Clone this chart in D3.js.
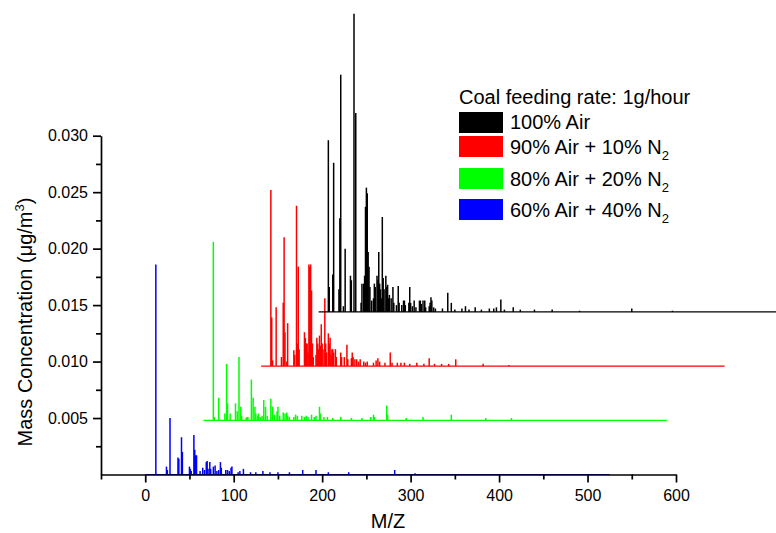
<!DOCTYPE html>
<html>
<head>
<meta charset="utf-8">
<script src="https://cdn.jsdelivr.net/npm/d3@7/dist/d3.min.js"></script>
<style>
  body { margin: 0; background: #fff; }
  svg text { font-family: "Liberation Sans", Arial, sans-serif; fill: #000; }
</style>
</head>
<body>
<div id="chart"></div>
<script>
// waterfall offsets between the spectra
var xShift = 65;
var yShift = 0.0048;
var mzRange = [1, 525];

var xTicks = [0, 100, 200, 300, 400, 500, 600];
var xMinor = [-50, 50, 150, 250, 350, 450, 550];
var yTicks = [0.005, 0.010, 0.015, 0.020, 0.025, 0.030];
var yMinor = [0.0025, 0.0075, 0.0125, 0.0175, 0.0225, 0.0275];

var legendTitle = 'Coal feeding rate: 1g/hour';
var seriesNames = ['60% Air + 40% N', '80% Air + 20% N', '90% Air + 10% N', '100% Air'];
var seriesColors = ['#0000ff', '#00ff00', '#ff0000', '#000000'];

// [m/z, mass concentration] peaks of each spectrum
var blue = [[12, 0.0186], [24, 0.0007], [25, 0.0004], [28, 0.0050], [37, 0.0015], [38, 0.0014],
  [41, 0.0033], [42, 0.0020], [50, 0.0007], [51, 0.0005], [52, 0.0003], [55, 0.0035], [56, 0.0022],
  [57, 0.0017], [58, 0.0017], [62, 0.0003], [65, 0.0006], [67, 0.0004], [69, 0.0011], [70, 0.0012],
  [71, 0.0005], [73, 0.0011], [74, 0.0005], [77, 0.0007], [79, 0.0008], [81, 0.0003], [83, 0.0004],
  [85, 0.0011], [86, 0.0006], [91, 0.0004], [93, 0.0004], [95, 0.0003], [97, 0.0006], [98, 0.0007],
  [105, 0.0002], [107, 0.0003], [111, 0.0005], [119, 0.0002], [125, 0.0002], [133, 0.0003],
  [141, 0.0002], [150, 0.0002], [163, 0.0002], [178, 0.0004], [193, 0.0004], [207, 0.0002],
  [230, 0.0002], [282, 0.0004], [305, 0.0001]];

var green = [[12, 0.0158], [13, 0.0003], [18, 0.0020], [25, 0.0006], [27, 0.0050], [28, 0.0015],
  [31, 0.0006], [37, 0.0015], [39, 0.0008], [41, 0.0056], [43, 0.0012], [44, 0.0004], [49, 0.0002],
  [50, 0.0003], [51, 0.0003], [55, 0.0036], [57, 0.0020], [59, 0.0012], [60, 0.0006], [62, 0.0004],
  [63, 0.0006], [65, 0.0003], [67, 0.0004], [69, 0.0018], [71, 0.0012], [73, 0.0004], [77, 0.0019],
  [79, 0.0012], [81, 0.0005], [84, 0.0008], [85, 0.0012], [87, 0.0004], [91, 0.0007], [93, 0.0006],
  [95, 0.0007], [96, 0.0004], [98, 0.0003], [103, 0.0003], [105, 0.0005], [107, 0.0004],
  [112, 0.0004], [115, 0.0003], [117, 0.0004], [119, 0.0003], [123, 0.0005], [126, 0.0003],
  [128, 0.0004], [132, 0.0012], [133, 0.0006], [137, 0.0003], [141, 0.0003], [147, 0.0002],
  [156, 0.0003], [168, 0.0002], [180, 0.0002], [190, 0.0003], [193, 0.0005], [194, 0.0003],
  [208, 0.0013], [209, 0.0005], [230, 0.0002], [249, 0.0003], [281, 0.0005], [320, 0.0002],
  [349, 0.0002]];

var red = [[12, 0.0156], [13, 0.0043], [14, 0.0005], [18, 0.0052], [24, 0.0008], [26, 0.0056],
  [27, 0.0114], [28, 0.0030], [30, 0.0004], [31, 0.0038], [38, 0.0014], [39, 0.0010], [41, 0.0142],
  [42, 0.0020], [43, 0.0088], [44, 0.0015], [50, 0.0030], [51, 0.0025], [52, 0.0020], [53, 0.0020],
  [54, 0.0012], [55, 0.0090], [56, 0.0088], [57, 0.0090], [58, 0.0067], [59, 0.0020], [60, 0.0008],
  [63, 0.0010], [64, 0.0025], [65, 0.0020], [66, 0.0015], [67, 0.0027], [68, 0.0018], [69, 0.0037],
  [70, 0.0020], [71, 0.0015], [73, 0.0060], [74, 0.0020], [75, 0.0012], [77, 0.0029], [78, 0.0020],
  [79, 0.0025], [80, 0.0010], [81, 0.0015], [82, 0.0015], [83, 0.0012], [85, 0.0015], [86, 0.0008],
  [91, 0.0012], [92, 0.0008], [95, 0.0008], [98, 0.0019], [99, 0.0006], [103, 0.0007],
  [104, 0.0012], [105, 0.0008], [107, 0.0006], [109, 0.0006], [111, 0.0004], [113, 0.0006],
  [117, 0.0004], [119, 0.0003], [121, 0.0004], [128, 0.0003], [131, 0.0005], [133, 0.0007],
  [135, 0.0004], [141, 0.0003], [147, 0.0012], [149, 0.0003], [155, 0.0003], [159, 0.0003],
  [163, 0.0003], [169, 0.0002], [177, 0.0003], [185, 0.0002], [191, 0.0007], [197, 0.0002],
  [205, 0.0002], [213, 0.0002], [221, 0.0006], [252, 0.0002], [281, 0.0001]];

var black = [[12, 0.0152], [13, 0.0022], [17, 0.0033], [18, 0.0132], [24, 0.0020], [25, 0.0083],
  [26, 0.0210], [29, 0.0005], [31, 0.0056], [37, 0.0032], [38, 0.0028], [41, 0.0264], [43, 0.0176],
  [49, 0.0008], [50, 0.0025], [52, 0.0025], [53, 0.0032], [54, 0.0093], [55, 0.0110], [56, 0.0105],
  [57, 0.0053], [58, 0.0040], [59, 0.0022], [61, 0.0010], [63, 0.0012], [64, 0.0025], [65, 0.0022],
  [67, 0.0032], [68, 0.0028], [69, 0.0053], [70, 0.0025], [71, 0.0020], [72, 0.0012], [73, 0.0084],
  [74, 0.0030], [75, 0.0020], [77, 0.0032], [78, 0.0022], [79, 0.0024], [80, 0.0012], [81, 0.0015],
  [83, 0.0012], [85, 0.0022], [86, 0.0008], [89, 0.0006], [91, 0.0023], [92, 0.0008], [95, 0.0006],
  [97, 0.0010], [98, 0.0010], [99, 0.0006], [103, 0.0008], [104, 0.0022], [105, 0.0008],
  [107, 0.0005], [109, 0.0010], [111, 0.0004], [115, 0.0010], [116, 0.0010], [117, 0.0007],
  [119, 0.0010], [121, 0.0010], [122, 0.0004], [126, 0.0005], [127, 0.0008], [128, 0.0013],
  [129, 0.0010], [131, 0.0004], [133, 0.0003], [141, 0.0003], [147, 0.0017], [151, 0.0008],
  [155, 0.0002], [163, 0.0003], [167, 0.0005], [171, 0.0002], [178, 0.0004], [185, 0.0002],
  [194, 0.0003], [199, 0.0003], [202, 0.0004], [207, 0.0011], [211, 0.0002], [221, 0.0004],
  [229, 0.0002], [245, 0.0002], [265, 0.0002], [296, 0.0001], [355, 0.0003], [401, 0.0001]];

var spectra = [blue, green, red, black];

var width = 776, height = 533;

var svg = d3.select('#chart').append('svg')
  .attr('width', width)
  .attr('height', height);

var x = d3.scaleLinear().domain([-50, 600]).range([101, 676]);
var y = d3.scaleLinear().domain([0, 0.030]).range([474.5, 135.7]);

// spectra, blue at the back
spectra.forEach(function (peaks, i) {
  var dx = i * xShift, dy = i * yShift;
  var g = svg.append('g').attr('stroke', seriesColors[i]);

  g.append('line')
    .attr('x1', x(mzRange[0] + dx))
    .attr('x2', x(mzRange[1] + dx))
    .attr('y1', y(dy))
    .attr('y2', y(dy))
    .attr('stroke-width', 1.2);

  g.selectAll('.peak')
    .data(peaks)
    .enter()
    .append('line')
    .attr('class', 'peak')
    .attr('x1', function (d) { return x(d[0] + dx); })
    .attr('x2', function (d) { return x(d[0] + dx); })
    .attr('y1', y(dy))
    .attr('y2', function (d) { return y(d[1] + dy); })
    .attr('stroke-width', 1.5);
});

// axes
svg.append('g')
  .attr('transform', 'translate(0,' + y(0) + ')')
  .call(d3.axisBottom(x).tickValues(xTicks).tickSize(8).tickSizeOuter(0).tickPadding(7));
svg.append('g')
  .attr('transform', 'translate(0,' + y(0) + ')')
  .call(d3.axisBottom(x).tickValues(xMinor).tickSize(5).tickFormat(''))
  .call(function (g) { g.select('.domain').remove(); });

svg.append('g')
  .attr('transform', 'translate(' + x(-50) + ',0)')
  .call(d3.axisLeft(y).tickValues(yTicks).tickFormat(d3.format('.3f')).tickSize(8).tickSizeOuter(0).tickPadding(5));
svg.append('g')
  .attr('transform', 'translate(' + x(-50) + ',0)')
  .call(d3.axisLeft(y).tickValues(yMinor).tickSize(5).tickFormat(''))
  .call(function (g) { g.select('.domain').remove(); });

svg.selectAll('.domain, .tick line')
  .attr('stroke', '#000')
  .attr('stroke-width', 1.7);
svg.selectAll('.tick text')
  .attr('font-size', 16)
  .attr('font-family', '"Liberation Sans", Arial, sans-serif')
  .attr('fill', '#000');

// axis titles
svg.append('text')
  .attr('x', 388)
  .attr('y', 528)
  .attr('text-anchor', 'middle')
  .attr('font-size', 20)
  .text('M/Z');

var yTitle = svg.append('text')
  .attr('transform', 'translate(32,322) rotate(-90)')
  .attr('text-anchor', 'middle')
  .attr('font-size', 20);
yTitle.append('tspan').text('Mass Concentration (\u03bcg/m');
yTitle.append('tspan').attr('dy', -8).attr('font-size', 13).text('3');
yTitle.append('tspan').attr('dy', 8).text(')');

// legend
var legend = svg.append('g');
legend.append('text')
  .attr('x', 459)
  .attr('y', 104)
  .attr('font-size', 20)
  .text(legendTitle);

var legendOrder = [3, 2, 1, 0];
var swatchY = [112, 136, 168, 199];
var labelY = [128.5, 154, 186, 217];

legendOrder.forEach(function (si, k) {
  legend.append('rect')
    .attr('x', 459)
    .attr('y', swatchY[k])
    .attr('width', 44)
    .attr('height', 21)
    .attr('fill', seriesColors[si]);
  var t = legend.append('text')
    .attr('x', 510)
    .attr('y', labelY[k])
    .attr('font-size', 20);
  t.append('tspan').text(seriesNames[si]);
  if (si < 3) {
    t.append('tspan').attr('dy', 6).attr('font-size', 13).text('2');
  }
});
</script>
</body>
</html>
